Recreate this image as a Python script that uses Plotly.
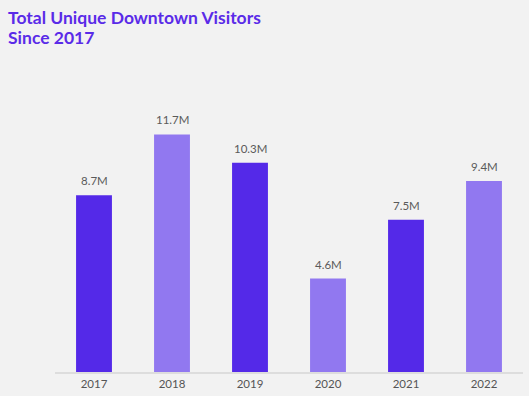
import plotly.graph_objects as go

years = [2017, 2018, 2019, 2020, 2021, 2022]
visitors = [8.7, 11.7, 10.3, 4.6, 7.5, 9.4]
labels = ["8.7M", "11.7M", "10.3M", "4.6M", "7.5M", "9.4M"]
colors = ["#5429E8", "#9178F0", "#5429E8", "#9178F0", "#5429E8", "#9178F0"]
title_lines = ["Total Unique Downtown Visitors", "Since 2017"]

fig = go.Figure()
fig.add_trace(go.Bar(
    x=years, y=visitors,
    width=0.46,
    marker=dict(color=colors, line=dict(width=0)),
    hoverinfo="skip",
))
for x, y, t in zip(years, visitors, labels):
    fig.add_annotation(x=x, y=y, text=t, showarrow=False, yanchor="bottom",
                       yshift=6, font=dict(size=11.5, color="#5a5a5a", family="Lato"))

for line, ypos in zip(title_lines, [1.122, 1.058]):
    fig.add_annotation(xref="paper", yref="paper", x=-0.1047, y=ypos,
                       xanchor="left", yanchor="middle", showarrow=False,
                       text=f"<b>{line}</b>",
                       font=dict(size=17.5, color="#5A2BE8", family="Lato"))

fig.update_layout(
    width=529, height=396,
    paper_bgcolor="#F2F2F2", plot_bgcolor="#F2F2F2",
    margin=dict(l=55, r=6, t=56, b=22),
    showlegend=False,
    xaxis=dict(range=[2016.5, 2022.5], tickmode="array", tickvals=years,
               ticktext=[str(y) for y in years],
               showgrid=False, zeroline=False, showline=True, linecolor="#DDDDDD",
               linewidth=2, ticks="",
               tickfont=dict(size=11.5, color="#555555", family="Lato")),
    yaxis=dict(visible=False, range=[0, 15.56], showgrid=False, zeroline=False),
)

fig.write_html("out.html", config={"displayModeBar": False},
               post_script="document.body.style.margin='0';document.body.style.background='#F2F2F2';")
